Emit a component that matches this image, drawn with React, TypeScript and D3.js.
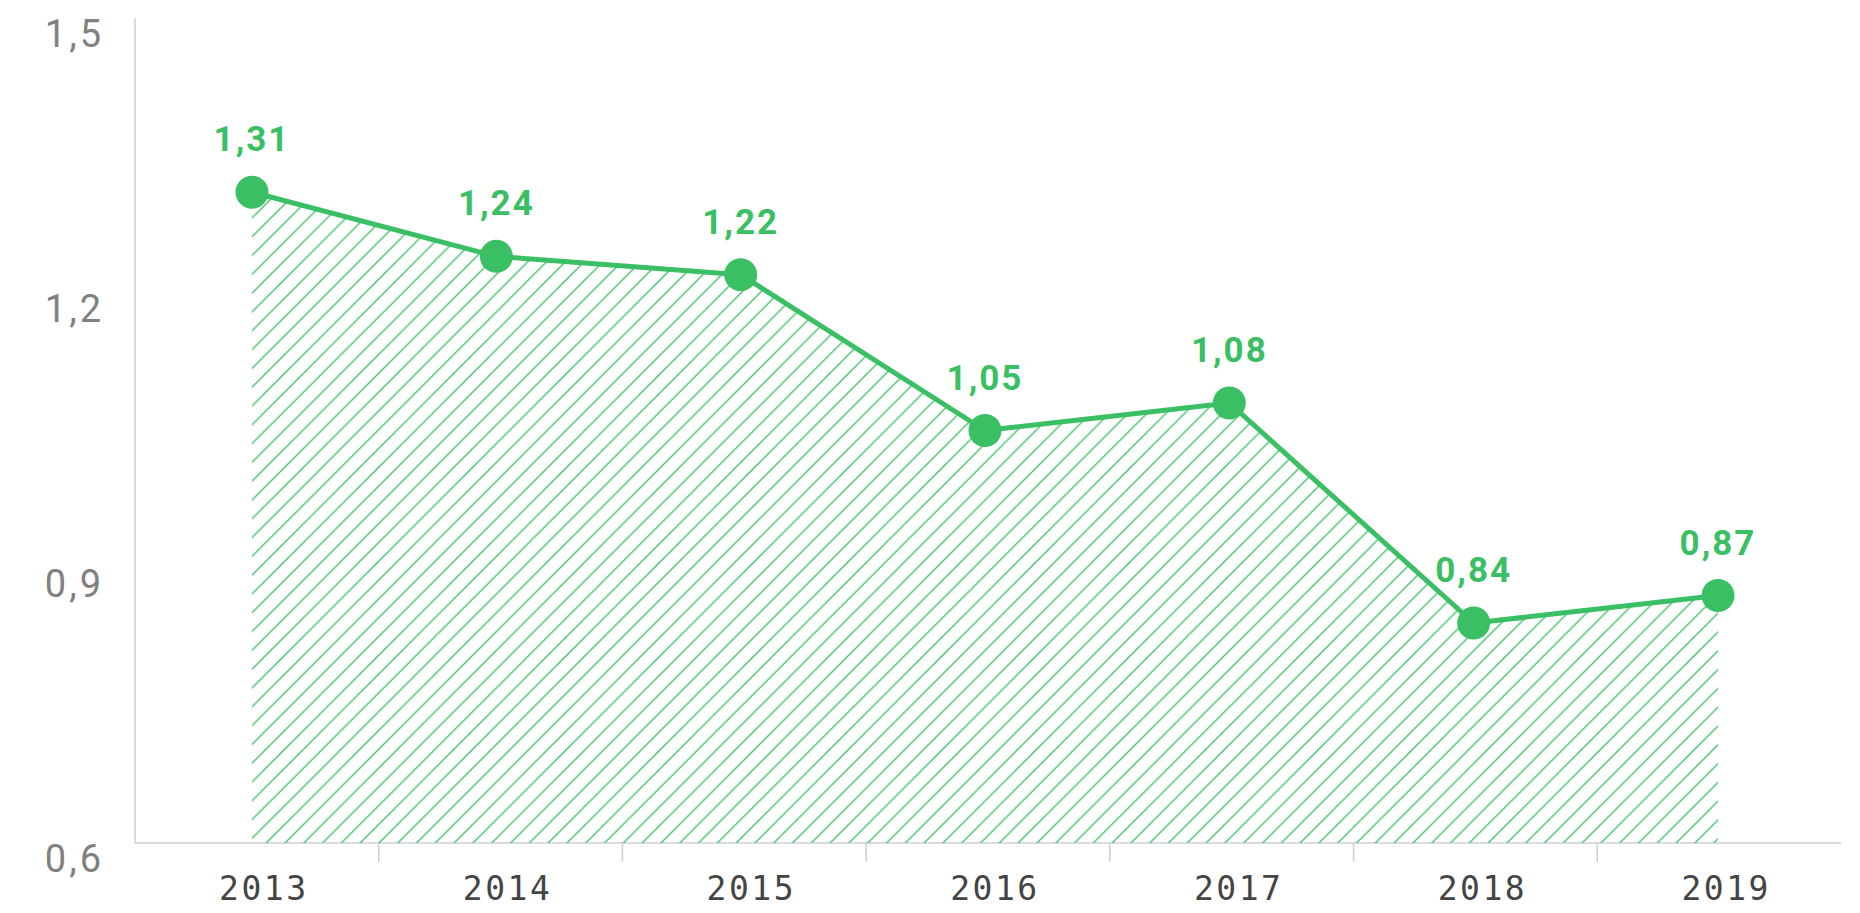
import React from "react";
import * as d3 from "d3";

const years = ["2013", "2014", "2015", "2016", "2017", "2018", "2019"];
const values = [1.31, 1.24, 1.22, 1.05, 1.08, 0.84, 0.87];
const yTicks = [0.6, 0.9, 1.2, 1.5];

const W = 1860;
const H = 913;
const GREEN = "#3bbf64";
const fmt = (v: number, d: number) => v.toFixed(d).replace(".", ",");

export default function App() {
  const x0 = 135;
  const x1 = 1841;
  const yTop = 18;
  const yBot = 843;

  const band = d3.scaleBand<string>().domain(years).range([x0, x1]).padding(0);
  const xp = d3.scalePoint<string>().domain(years).range([252, 1718]);
  const y = d3.scaleLinear().domain([0.6, 1.5]).range([yBot, yTop]);

  const data = years.map((yr, i) => ({ yr, v: values[i] }));
  const line = d3
    .line<{ yr: string; v: number }>()
    .x((d) => xp(d.yr)!)
    .y((d) => y(d.v));
  const area = d3
    .area<{ yr: string; v: number }>()
    .x((d) => xp(d.yr)!)
    .y0(yBot)
    .y1((d) => y(d.v));

  const boundaries = years.slice(1).map((yr) => band(yr)!);
  const hs = 18.8;

  return (
    <svg
      width={W}
      height={H}
      style={{ position: "fixed", left: 0, top: 0, background: "#fff" }}
    >
      <defs>
        <pattern id="hatch" patternUnits="userSpaceOnUse" width={hs} height={hs}>
          <path
            d={`M0,${hs} L${hs},0 M${-hs / 2},${hs / 2} L${hs / 2},${-hs / 2} M${hs / 2},${hs * 1.5} L${hs * 1.5},${hs / 2}`}
            stroke={GREEN}
            strokeWidth={1.3}
          />
        </pattern>
      </defs>

      {/* axes */}
      <line x1={x0} x2={x0} y1={yTop} y2={yBot} stroke="#cfcfcf" strokeWidth={1.5} />
      <line x1={x0} x2={x1} y1={yBot} y2={yBot} stroke="#cfcfcf" strokeWidth={1.5} />
      {boundaries.map((bx, i) => (
        <line key={i} x1={bx} x2={bx} y1={yBot} y2={862} stroke="#cfcfcf" strokeWidth={1.5} />
      ))}

      {/* y labels */}
      {yTicks.map((t) => (
        <text
          key={t}
          x={104}
          y={y(t) + 29}
          textAnchor="end"
          fill="#808080"
          fontFamily="Roboto, 'DejaVu Sans', sans-serif"
          fontWeight={400}
          fontSize={38}
          letterSpacing={3}
        >
          {fmt(t, 1)}
        </text>
      ))}

      {/* x labels */}
      {years.map((yr) => (
        <text
          key={yr}
          x={band(yr)! + band.bandwidth() / 2 + 7}
          y={900}
          textAnchor="middle"
          fill="#444"
          fontFamily="'DejaVu Sans Mono', monospace"
          fontSize={33}
          letterSpacing={2.5}
        >
          {yr}
        </text>
      ))}

      {/* area + line */}
      <path d={area(data)!} fill="url(#hatch)" stroke="none" />
      <path d={line(data)!} fill="none" stroke={GREEN} strokeWidth={5} strokeLinejoin="round" />
      {data.map((d) => (
        <circle key={d.yr} cx={xp(d.yr)!} cy={y(d.v)} r={16.5} fill={GREEN} />
      ))}
      {data.map((d) => (
        <text
          key={d.yr + "l"}
          x={xp(d.yr)!}
          y={y(d.v) - 41}
          textAnchor="middle"
          fill={GREEN}
          fontFamily="Roboto, 'DejaVu Sans', sans-serif"
          fontWeight={700}
          fontSize={35}
          letterSpacing={2}
        >
          {fmt(d.v, 2)}
        </text>
      ))}
    </svg>
  );
}
